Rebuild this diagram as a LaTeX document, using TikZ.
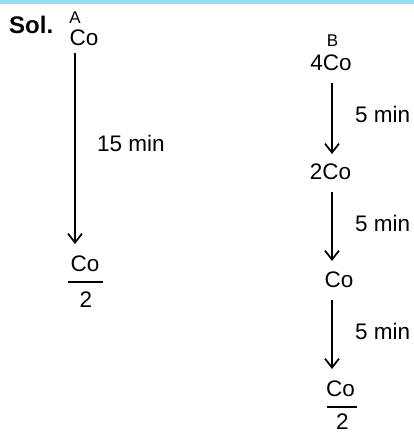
\documentclass[tikz,border=0pt]{standalone}
\usepackage{fontspec}
\setmainfont{Liberation Sans}
\usetikzlibrary{arrows.meta}
\definecolor{topbar}{RGB}{155,220,245}
\begin{document}
\begin{tikzpicture}[x=1pt,y=-1pt,
  lbl/.style={inner sep=0pt,font=\fontsize{22.5}{24}\selectfont},
  letterlbl/.style={inner sep=0pt,font=\fontsize{17}{18}\selectfont},
  arr/.style={line width=1.7pt,-{Straight Barb[length=9pt,width=14pt,line width=1.7pt]}},
  fbar/.style={line width=1.6pt}]
\useasboundingbox (0,0) rectangle (414,434);
\fill[topbar] (0,0) rectangle (414,4);
\node[inner sep=0pt,anchor=base west,font=\fontsize{24}{26}\selectfont\bfseries] (sol) at (9,33) {Sol.};
% left column
\node[letterlbl] (A) at (75,17.5) {A};
\node[lbl] (lco) at (84,37.5) {Co};
\coordinate (l1s) at (75,53);
\coordinate (l1e) at (75,244);
\draw[arr] (l1s) -- (l1e);
\node[lbl,anchor=west] (t15) at (97,143.5) {15 min};
\node[lbl] (lnum) at (85,263.5) {Co};
\draw[fbar] (68,282) -- (103,282);
\node[lbl] (lden) at (86,300) {2};
% right column
\node[letterlbl] (B) at (332.5,40.5) {B};
\node[lbl] (r4) at (331,62.5) {4Co};
\node[lbl] (r2) at (330.5,171.5) {2Co};
\node[lbl] (r1) at (339,279.5) {Co};
\node[lbl] (rnum) at (340.5,388.5) {Co};
\draw[fbar] (327,407) -- (357,407);
\node[lbl] (rden) at (342.5,421.5) {2};
\coordinate (r1s) at (332,83);
\coordinate (r1e) at (332,154);
\coordinate (r2s) at (332,192);
\coordinate (r2e) at (332,261);
\coordinate (r3s) at (332,300);
\coordinate (r3e) at (332,369);
\draw[arr] (r1s) -- (r1e);
\draw[arr] (r2s) -- (r2e);
\draw[arr] (r3s) -- (r3e);
\node[lbl,anchor=west] (m1) at (355,114) {5 min};
\node[lbl,anchor=west] (m2) at (355,223) {5 min};
\node[lbl,anchor=west] (m3) at (355,331) {5 min};
\end{tikzpicture}
\end{document}
